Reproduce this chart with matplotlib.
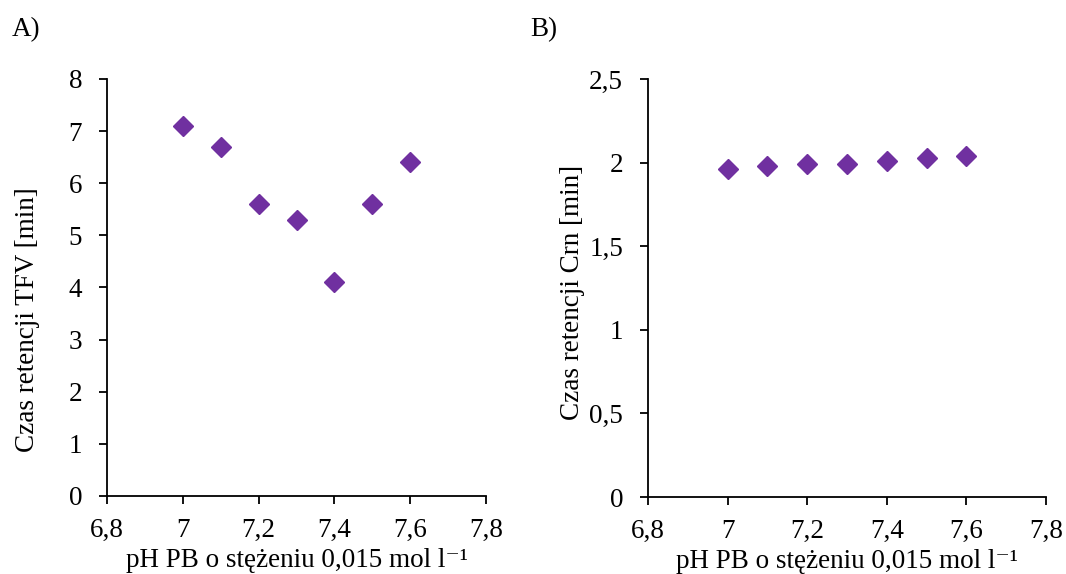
import matplotlib.pyplot as plt
from matplotlib.ticker import FuncFormatter

plt.rcParams['font.family'] = ['Liberation Serif', 'DejaVu Serif']
plt.rcParams['font.size'] = 19.5

ph = [7.0, 7.1, 7.2, 7.3, 7.4, 7.5, 7.6]
tfv = [7.1, 6.7, 5.6, 5.3, 4.1, 5.6, 6.4]
crn = [1.96, 1.98, 1.99, 1.99, 2.01, 2.03, 2.04]

x_ticks = [6.8, 7.0, 7.2, 7.4, 7.6, 7.8]
tfv_ticks = [0, 1, 2, 3, 4, 5, 6, 7, 8]
crn_ticks = [0, 0.5, 1, 1.5, 2, 2.5]

xlabel = 'pH PB o stężeniu 0,015 mol l⁻¹'
purple = '#7030A0'


def comma(v, pos):
    return f'{v:g}'.replace('.', ',')


fig = plt.figure(figsize=(10.66, 5.74), dpi=100)
axA = fig.add_axes([0.1004, 0.1359, 0.3555, 0.7265])
axB = fig.add_axes([0.6079, 0.1341, 0.3733, 0.7283])

panels = [
    (axA, tfv, tfv_ticks, 'Czas retencji TFV [min]', 'A)', 0.011),
    (axB, crn, crn_ticks, 'Czas retencji Crn [min]', 'B)', 0.497),
]

for ax, vals, yt, ylab, tag, tx in panels:
    ax.plot(ph, vals, linestyle='none', marker='D', markersize=10,
            color=purple, markeredgecolor=purple)
    ax.set_xlim(x_ticks[0], x_ticks[-1])
    ax.set_ylim(yt[0], yt[-1])
    ax.set_xticks(x_ticks)
    ax.set_yticks(yt)
    ax.xaxis.set_major_formatter(FuncFormatter(comma))
    ax.yaxis.set_major_formatter(FuncFormatter(comma))
    for side in ('top', 'right'):
        ax.spines[side].set_visible(False)
    for side in ('left', 'bottom'):
        ax.spines[side].set_linewidth(1.3)
        ax.spines[side].set_color('black')
    ax.tick_params(direction='out', length=5.5, width=1.3)
    ax.tick_params(axis='y', pad=12.5)
    ax.tick_params(axis='x', pad=10)
    ax.set_xlabel(xlabel, labelpad=4)
    ax.set_ylabel(ylab)
    fig.text(tx, 0.949, tag, fontsize=19.5, va='center')

axA.yaxis.set_label_coords(-0.177, 0.422)
axB.yaxis.set_label_coords(-0.158, 0.49)

fig.savefig('out.png', dpi=100)
